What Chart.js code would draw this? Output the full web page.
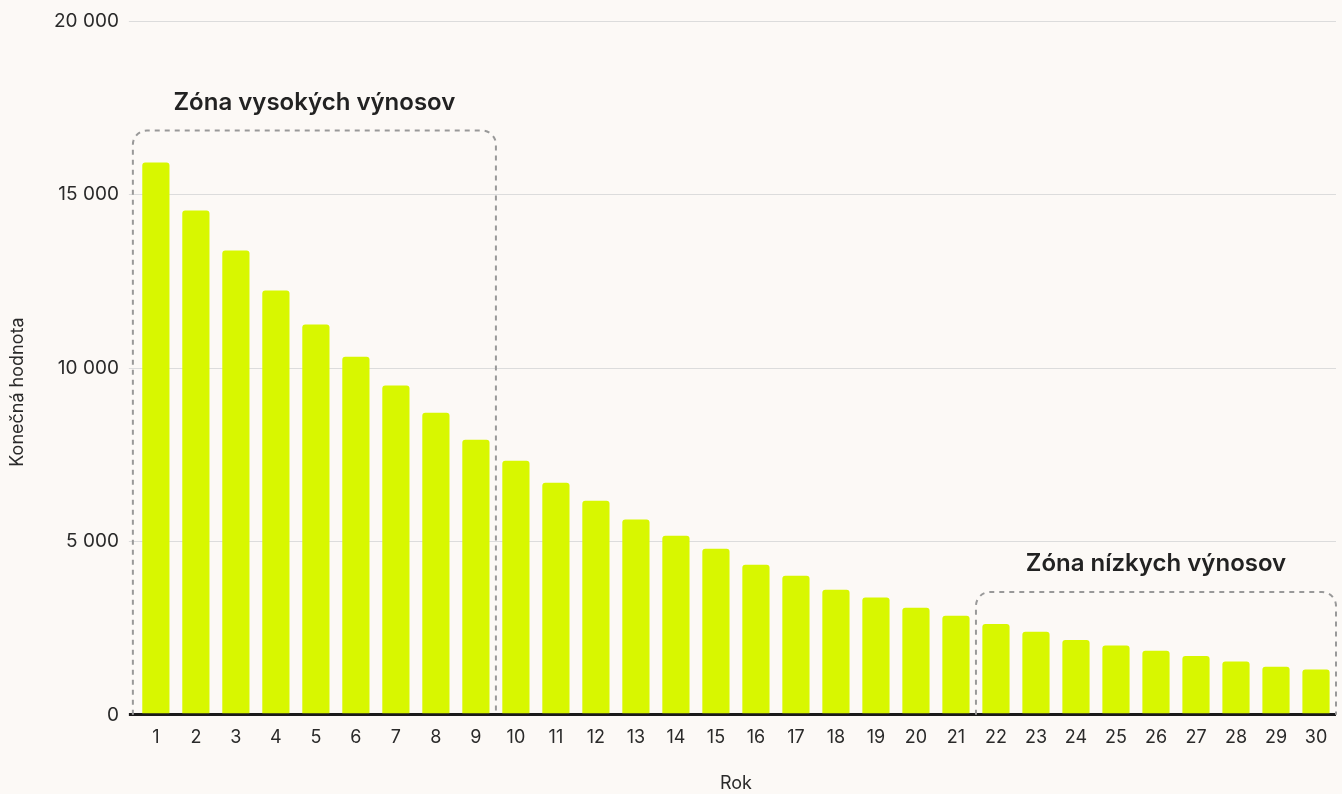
<!DOCTYPE html>
<html>
<head>
<meta charset="utf-8">
<script src="https://cdn.jsdelivr.net/npm/chart.js@4/dist/chart.umd.min.js"></script>
<style>
  html, body { margin: 0; padding: 0; background: #fcf9f6; }
  #wrap { width: 1342px; height: 794px; }
</style>
</head>
<body>
<div id="wrap"><canvas id="c"></canvas></div>
<script>
const years = ['1','2','3','4','5','6','7','8','9','10','11','12','13','14','15','16','17','18','19','20','21','22','23','24','25','26','27','28','29','30'];
const finalValues = [15930, 14545, 13390, 12240, 11255, 10330, 9495, 8715, 7935, 7330, 6695, 6175, 5630, 5165, 4790, 4330, 4010, 3610, 3380, 3090, 2860, 2620, 2395, 2155, 2000, 1845, 1695, 1540, 1385, 1305];
const yTicks = [0, 5000, 10000, 15000, 20000];
const zoneLabels = ['Zóna vysokých výnosov', 'Zóna nízkych výnosov'];
const zoneStart = [0, 21];
const zoneEnd = [8, 29];
const yTitle = 'Konečná hodnota';

function fmt(v) {
  return String(v).replace(/\B(?=(\d{3})+(?!\d))/g, ' ');
}

const zonePlugin = {
  id: 'zones',
  afterDatasetsDraw(chart) {
    const ctx = chart.ctx;
    const x = chart.scales.x, y = chart.scales.y;
    const half = (x.getPixelForValue(1) - x.getPixelForValue(0)) / 2;
    const y0 = y.getPixelForValue(0);
    for (let z = 0; z < zoneLabels.length; z++) {
      let left = x.getPixelForValue(zoneStart[z]) - half;
      if (z === 0) left -= 3;
      const right = x.getPixelForValue(zoneEnd[z]) + half;
      let maxV = 0;
      for (let i = zoneStart[z]; i <= zoneEnd[z]; i++) maxV = Math.max(maxV, finalValues[i]);
      const top = y.getPixelForValue(maxV) - 32;
      const r = 14;
      ctx.save();
      ctx.strokeStyle = '#999999';
      ctx.lineWidth = 2;
      ctx.setLineDash([5, 5]);
      ctx.beginPath();
      ctx.moveTo(left, y0);
      ctx.lineTo(left, top + r);
      ctx.arcTo(left, top, left + r, top, r);
      ctx.lineTo(right - r, top);
      ctx.arcTo(right, top, right, top + r, r);
      ctx.lineTo(right, y0);
      ctx.stroke();
      ctx.setLineDash([]);
      ctx.fillStyle = '#222222';
      ctx.font = '600 24px Inter';
      ctx.textAlign = 'center';
      ctx.textBaseline = 'middle';
      ctx.fillText(zoneLabels[z], (left + right) / 2, top - 28);
      ctx.restore();
    }
  }
};

const yTitlePlugin = {
  id: 'ytitle',
  afterDraw(chart) {
    const ctx = chart.ctx;
    const a = chart.chartArea;
    ctx.save();
    ctx.translate(17.5, (a.top + a.bottom) / 2 + 24);
    ctx.rotate(-Math.PI / 2);
    ctx.fillStyle = '#2a2a2a';
    ctx.font = '18px Inter';
    ctx.textAlign = 'center';
    ctx.textBaseline = 'middle';
    ctx.fillText(yTitle, 0, 0);
    ctx.restore();
  }
};

const bgPlugin = {
  id: 'bg',
  beforeDraw(chart) {
    const ctx = chart.ctx;
    ctx.save();
    ctx.fillStyle = '#fcf9f6';
    ctx.fillRect(0, 0, chart.width, chart.height);
    ctx.restore();
  }
};

Chart.defaults.font.family = 'Inter';
Chart.defaults.color = '#2a2a2a';

new Chart(document.getElementById('c'), {
  type: 'bar',
  data: {
    labels: years,
    datasets: [{
      data: finalValues,
      backgroundColor: '#d8f700',
      borderRadius: { topLeft: 3, topRight: 3, bottomLeft: 0, bottomRight: 0 },
      borderSkipped: 'bottom',
      barPercentage: 0.85,
      categoryPercentage: 0.8
    }]
  },
  options: {
    responsive: true,
    maintainAspectRatio: false,
    animation: false,
    layout: { padding: { top: 11, right: 6, left: 44, bottom: 0 } },
    plugins: { legend: { display: false }, tooltip: { enabled: false } },
    scales: {
      x: {
        grid: { display: false, drawTicks: false },
        border: { display: false },
        ticks: { font: { size: 18 }, color: '#2a2a2a', padding: 12 },
        title: { display: true, text: 'Rok', font: { size: 18 }, color: '#2a2a2a', padding: { top: 12, bottom: 0 } }
      },
      y: {
        min: 0, max: 20000,
        afterBuildTicks(scale) { scale.ticks = yTicks.map(v => ({ value: v })); },
        grid: {
          color: ctx => ctx.tick && ctx.tick.value === 0 ? '#1a1a1a' : '#dcdcdc',
          lineWidth: ctx => ctx.tick && ctx.tick.value === 0 ? 3 : 1,
          tickLength: 7
        },
        border: { display: false },
        ticks: { font: { size: 19 }, color: '#2a2a2a', padding: 10, callback: v => fmt(v) },
        title: { display: false }
      }
    }
  },
  plugins: [bgPlugin, zonePlugin, yTitlePlugin]
});
</script>
</body>
</html>
